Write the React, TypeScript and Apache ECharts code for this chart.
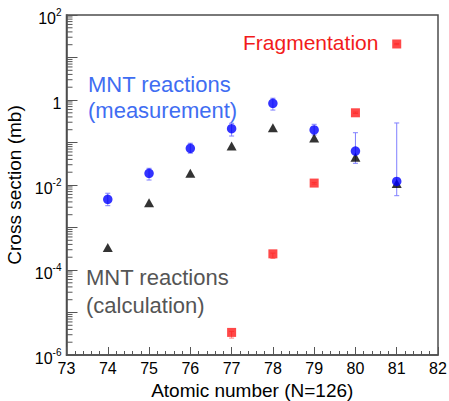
import React, { useEffect, useRef } from 'react';
import * as echarts from 'echarts';

// ---- Data ----
const xMin = 73;
const xMax = 82;
const yMin = 1e-6;
const yMax = 100;

const measZ = [74, 75, 76, 77, 78, 79, 80, 81];
const measValues = [4.6e-3, 1.88e-2, 7.3e-2, 0.211, 0.836, 0.197, 0.063, 0.0121];
const measLow = [3.26e-3, 1.31e-2, 5.6e-2, 0.142, 0.58, 0.15, 0.0324, 5.6e-3];
const measHigh = [6.4e-3, 2.47e-2, 9.6e-2, 0.283, 1.1, 0.268, 0.17, 0.288];

const calcZ = [74, 75, 76, 77, 78, 79, 80, 81];
const calcValues = [3.4e-4, 3.8e-3, 1.88e-2, 8.3e-2, 0.223, 0.128, 0.0449, 0.0108];

const fragZ = [77, 78, 79, 80, 81];
const fragValues = [3.4e-6, 2.4e-4, 1.11e-2, 0.5, 20.8];
const fragLow = [2.5e-6, 1.88e-4, 1.05e-2, 0.48, 20.0];
const fragHigh = [3.6e-6, 2.5e-4, 1.15e-2, 0.52, 21.5];

// minor tick mantissas for the log axis (2..9 x 10^n)
const minorMantissas = [2, 3, 4, 5, 6, 7, 8, 9];
const decadeExponents = [-6, -5, -4, -3, -2, -1, 0, 1];

const FONT = '"Liberation Sans", Arial, Helvetica, sans-serif';
const AXIS_COLOR = '#4d4d4d';
const TICK_COLOR = '#555555';

export default function App() {
  const ref = useRef<HTMLDivElement>(null);

  useEffect(() => {
    if (!ref.current) return;
    const chart = echarts.init(ref.current, null, { renderer: 'svg' });

    const minorTickData: number[][] = [];
    decadeExponents.forEach((e) => {
      minorMantissas.forEach((m) => minorTickData.push([xMin, m * Math.pow(10, e)]));
    });

    const errBar = (color: string) => (params: any, api: any) => {
      const x = api.value(0);
      const lo = api.coord([x, api.value(1)]);
      const hi = api.coord([x, api.value(2)]);
      const cw = 2.5;
      const style = { stroke: color, lineWidth: 1 };
      return {
        type: 'group',
        children: [
          { type: 'line', shape: { x1: lo[0], y1: lo[1], x2: hi[0], y2: hi[1] }, style },
          { type: 'line', shape: { x1: lo[0] - cw, y1: lo[1], x2: lo[0] + cw, y2: lo[1] }, style },
          { type: 'line', shape: { x1: hi[0] - cw, y1: hi[1], x2: hi[0] + cw, y2: hi[1] }, style },
        ],
      };
    };

    const option: any = {
      animation: false,
      backgroundColor: '#ffffff',
      grid: {
        left: 66.5,
        right: 11,
        top: 15,
        bottom: 46,
        show: true,
        borderColor: AXIS_COLOR,
        borderWidth: 1.5,
        containLabel: false,
        outerBoundsMode: 'none',
      },
      xAxis: {
        type: 'value',
        min: xMin,
        max: xMax,
        interval: 1,
        name: 'Atomic number (N=126)',
        nameLocation: 'middle',
        nameGap: 24,
        nameTextStyle: { fontSize: 19, color: '#000', fontFamily: FONT },
        axisLine: { show: true, lineStyle: { color: AXIS_COLOR, width: 1.5 } },
        axisTick: { show: true, inside: true, length: 8, lineStyle: { color: TICK_COLOR, width: 1 } },
        minorTick: { show: true, splitNumber: 5, length: 4, lineStyle: { color: TICK_COLOR, width: 1 } },
        splitLine: { show: false },
        axisLabel: { fontSize: 16, color: '#000', margin: 5, fontFamily: FONT },
      },
      yAxis: {
        type: 'log',
        logBase: 10,
        min: yMin,
        max: yMax,
        splitNumber: 8,
        name: 'Cross section (mb)',
        nameLocation: 'middle',
        nameGap: 34,
        nameTextStyle: { fontSize: 19, color: '#000', fontFamily: FONT },
        axisLine: { show: true, lineStyle: { color: AXIS_COLOR, width: 1.5 } },
        axisTick: { show: true, inside: true, length: 11, lineStyle: { color: TICK_COLOR, width: 1 } },
        splitLine: { show: false },
        axisLabel: {
          margin: 5,
          color: '#000',
          fontFamily: FONT,
          formatter: (v: number) => {
            const e = Math.round(Math.log10(v));
            if (e % 2 !== 0) return '';
            if (e === 0) return '{b|1}';
            return `{b|10}{s|${e}}`;
          },
          rich: {
            b: { fontSize: 16, lineHeight: 16, padding: [6, 0, 0, 0], color: '#000', fontFamily: FONT },
            s: { fontSize: 10, lineHeight: 10, padding: [3, 0, 9, 0], color: '#000', fontFamily: FONT },
          },
        },
      },
      series: [
        {
          type: 'custom',
          name: 'minorTicks',
          silent: true,
          clip: false,
          renderItem: (params: any, api: any) => {
            const p = api.coord([api.value(0), api.value(1)]);
            return {
              type: 'line',
              shape: { x1: p[0], y1: p[1], x2: p[0] + 6, y2: p[1] },
              style: { stroke: TICK_COLOR, lineWidth: 1 },
            };
          },
          encode: { x: 0, y: 1 },
          data: minorTickData,
        },
        {
          type: 'custom',
          name: 'measErr',
          silent: true,
          renderItem: errBar('#7f7fff'),
          encode: { x: 0, y: [1, 2] },
          data: measZ.map((z, i) => [z, measLow[i], measHigh[i]]),
        },
        {
          type: 'custom',
          name: 'fragErr',
          silent: true,
          renderItem: errBar('#ff8080'),
          encode: { x: 0, y: [1, 2] },
          data: fragZ.map((z, i) => [z, fragLow[i], fragHigh[i]]),
        },
        {
          type: 'scatter',
          name: 'MNT reactions (calculation)',
          symbol: 'triangle',
          symbolSize: [10, 9],
          itemStyle: { color: '#000000' },
          data: calcZ.map((z, i) => [z, calcValues[i]]),
        },
        {
          type: 'scatter',
          name: 'Fragmentation',
          symbol: 'rect',
          symbolSize: 9,
          itemStyle: { color: '#ff1a1a' },
          data: fragZ.map((z, i) => [z, fragValues[i]]),
        },
        {
          type: 'scatter',
          name: 'MNT reactions (measurement)',
          symbol: 'circle',
          symbolSize: 9.5,
          itemStyle: { color: '#0000ff' },
          data: measZ.map((z, i) => [z, measValues[i]]),
        },
      ],
      graphic: [
        {
          type: 'text',
          x: 243,
          y: 42.5,
          style: { text: 'Fragmentation', fill: '#f21b1b', fontSize: 21, fontFamily: FONT, align: 'left', verticalAlign: 'middle' },
        },
        {
          type: 'text',
          x: 88,
          y: 84,
          style: { text: 'MNT reactions', fill: '#3f6df2', fontSize: 22, fontFamily: FONT, align: 'left', verticalAlign: 'middle' },
        },
        {
          type: 'text',
          x: 88,
          y: 110.5,
          style: { text: '(measurement)', fill: '#3f6df2', fontSize: 22, fontFamily: FONT, align: 'left', verticalAlign: 'middle' },
        },
        {
          type: 'text',
          x: 86,
          y: 277,
          style: { text: 'MNT reactions', fill: '#555555', fontSize: 22, fontFamily: FONT, align: 'left', verticalAlign: 'middle' },
        },
        {
          type: 'text',
          x: 86,
          y: 305,
          style: { text: '(calculation)', fill: '#555555', fontSize: 22, fontFamily: FONT, align: 'left', verticalAlign: 'middle' },
        },
      ],
    };

    chart.setOption(option);
    return () => chart.dispose();
  }, []);

  return (
    <div
      ref={ref}
      style={{ position: 'fixed', left: 0, top: 0, width: 449, height: 401, background: '#fff' }}
    />
  );
}
